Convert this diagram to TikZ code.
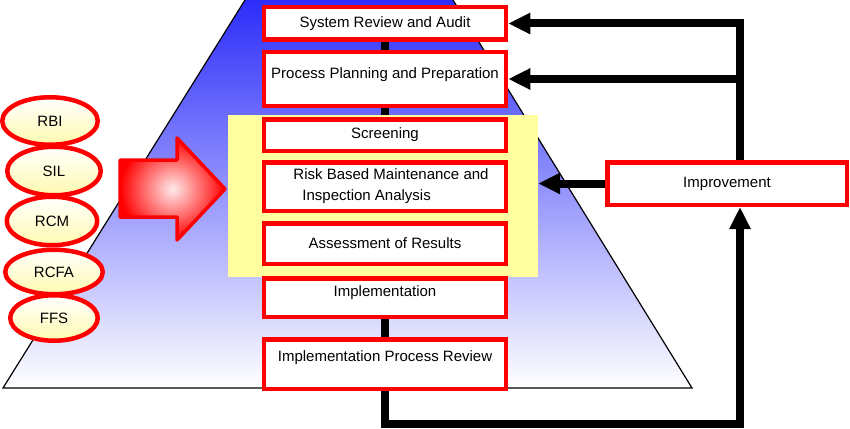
\documentclass[tikz,border=0pt]{standalone}
\usepackage{fontspec}
\setmainfont{Liberation Sans}
\usepackage{tikz}
\usetikzlibrary{arrows.meta,shapes.geometric}
\definecolor{boxRed}{RGB}{255,0,0}
\definecolor{pyrBlue}{RGB}{45,45,250}
\definecolor{zoneYellow}{RGB}{255,255,160}
\definecolor{ovalYellow}{RGB}{255,250,175}

\tikzset{
  stepbox/.style={draw=boxRed,line width=4.5pt,fill=white,minimum width=242pt,inner sep=0pt,
    font=\fontsize{15pt}{21pt}\selectfont},
  method/.style={ellipse,draw=boxRed,line width=4.5pt,top color=white,bottom color=ovalYellow,
    inner sep=0pt,font=\fontsize{15pt}{18pt}\selectfont},
  trunk/.style={line width=8pt},
  flow/.style={line width=8pt,-{Triangle[length=22pt,width=20pt]}},
}

\begin{document}
\begin{tikzpicture}[x=1pt,y=-1pt]
\useasboundingbox (0,0) rectangle (850,428);
% pyramid behind everything
\shade[top color=pyrBlue,bottom color=white] (245,0) -- (3,388) -- (692,388) -- (453,0) -- cycle;
\draw[line width=1.2pt] (245,0) -- (3,388) -- (692,388) -- (453,0);
% steps
\node[stepbox,minimum height=32.5pt] (sra) at (385,23.5) {System Review and Audit};
\node[stepbox,minimum height=49.5pt,text depth=15pt] (ipr) at (385,364) {Implementation Process Review};
\draw[trunk] (sra) -- (ipr);
\node[fill=zoneYellow,minimum width=310pt,minimum height=162pt] (zone) at (383,196) {};
\node[stepbox,minimum height=32.5pt] (sra) at (385,23.5) {System Review and Audit};
\node[stepbox,minimum height=53.5pt,text depth=11pt] (ppp) at (385,79) {Process Planning and Preparation};
\node[stepbox,minimum height=31.5pt] (scr) at (385,135) {Screening};
\node[stepbox,minimum height=48.5pt,align=left] (rbm) at (385,186.5) {\hspace*{12pt}Risk Based Maintenance and\\\hspace*{21pt}Inspection Analysis};
\node[stepbox,minimum height=40.5pt] (ass) at (385,243.5) {Assessment of Results};
\node[stepbox,minimum height=38.5pt,text depth=13pt] (impl) at (385,297.5) {Implementation};
\node[stepbox,minimum height=49.5pt,text depth=15pt] (ipr) at (385,364) {Implementation Process Review};
\node[stepbox,minimum width=239.5pt,minimum height=42.5pt] (imp) at (727,183.5) {Improvement};
% feedback
\draw[flow] (ipr.south) -- (ipr.south |- 0,424) -| ([xshift=13pt]imp.south);
\draw[flow] ([xshift=13pt]imp.north) |- (ppp.east);
\draw[flow] ([xshift=13pt]imp.north) |- (sra.east);
\draw[flow] (imp.west) -- (imp.west -| zone.east);
% methods
\node[method,minimum width=95.5pt,minimum height=47.5pt] (rbi) at (50,121) {RBI};
\node[method,minimum width=93.5pt,minimum height=48.5pt] (sil) at (54,171) {SIL};
\node[method,minimum width=90.5pt,minimum height=48.5pt] (rcm) at (52,221) {RCM};
\node[method,minimum width=97.5pt,minimum height=44.5pt] (rcfa) at (54,272) {RCFA};
\node[method,minimum width=87.5pt,minimum height=45.5pt] (ffs) at (54,318) {FFS};
% big arrow
\draw[boxRed,line width=3.5pt,line join=round,inner color=red!8,outer color=red]
  (120,160) -- (177,160) -- (177,138) -- (225,189) -- (177,240) -- (177,217) -- (120,217) -- cycle;
\end{tikzpicture}
\end{document}
